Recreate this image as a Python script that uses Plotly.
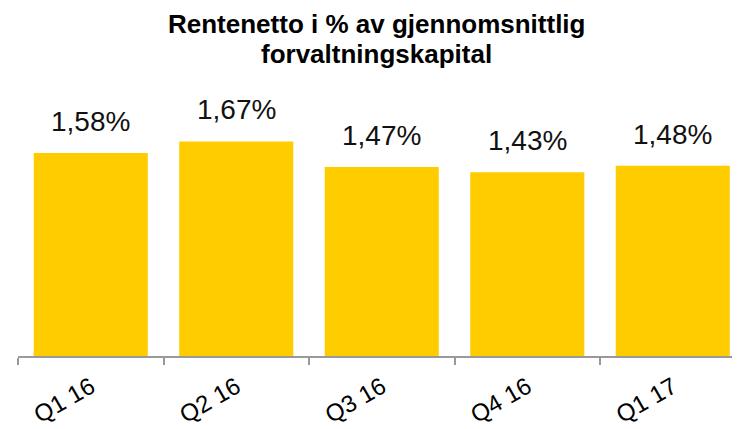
import plotly.graph_objects as go

categories = ["Q1 16", "Q2 16", "Q3 16", "Q4 16", "Q1 17"]
values = [1.58, 1.67, 1.47, 1.43, 1.48]
value_labels = ["1,58%", "1,67%", "1,47%", "1,43%", "1,48%"]
title_lines = ["Rentenetto i % av gjennomsnittlig", "forvaltningskapital"]

fig = go.Figure()
fig.add_trace(go.Bar(x=categories, y=values, marker=dict(color="#FFCC00", line=dict(width=0)),
                     hoverinfo="skip"))

for c, v, t in zip(categories, values, value_labels):
    fig.add_annotation(x=c, y=v, text=t, showarrow=False, yanchor="bottom", yshift=14,
                       font=dict(family="Liberation Sans, Arial", size=28, color="#111111"))

for line, shift in zip(title_lines, [91, 61]):
    fig.add_annotation(xref="paper", yref="paper", x=0.497, y=1.0, yshift=shift,
                       xanchor="center", yanchor="top", showarrow=False, borderpad=0,
                       text="<b>" + line + "</b>",
                       font=dict(family="Liberation Sans, Arial", size=26, color="#000000"))

fig.update_layout(
    width=740, height=429,
    margin=dict(l=10, r=8, t=91, b=81),
    paper_bgcolor="white", plot_bgcolor="white",
    bargap=0.216,
    showlegend=False,
    xaxis=dict(range=[-0.5, 4.462], showline=True, linecolor="#999999", linewidth=1.5,
               ticks="outside", tickson="boundaries", ticklen=7, tickcolor="#999999", tickwidth=1.5,
               tickangle=-30, showgrid=False, automargin=False, ticklabelstandoff=6,
               tickfont=dict(family="Liberation Sans, Arial", size=24, color="#000000")),
    yaxis=dict(range=[0, 2.0], visible=False, showgrid=False, automargin=False),
)

fig.write_html("out.html")
